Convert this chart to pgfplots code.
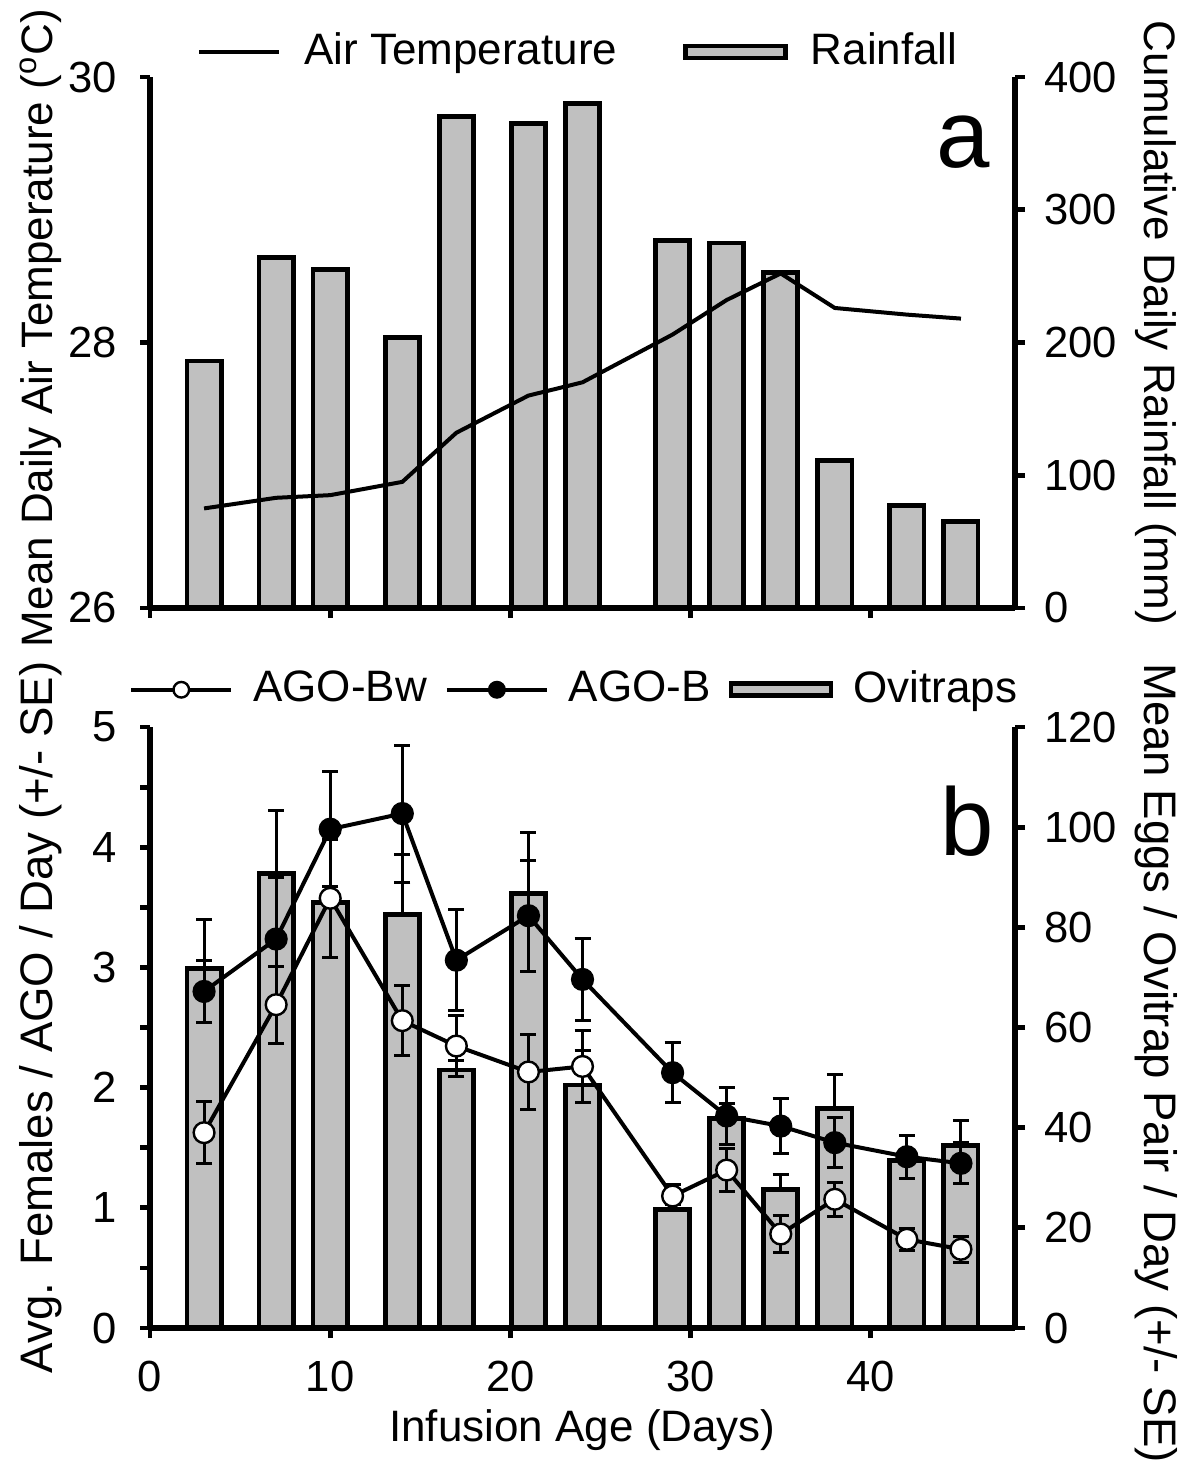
\documentclass[border=0pt]{standalone}
\usepackage{fontspec}
\setmainfont{Liberation Sans}
\usepackage{pgfplots}
\pgfplotsset{compat=1.18}
\definecolor{barfill}{RGB}{192,192,192}
\pgfplotsset{
  common/.style={
    width=216.25pt, scale only axis,
    xmin=0, xmax=48,
    enlargelimits=false,
    axis line style={line width=1.4pt,-},
    tick style={line width=1.2pt, black},
    major tick length=2.5pt, minor tick length=2.5pt,
    tick align=outside,
    /pgf/number format/assume math mode=true,
    tick label style={font=\fontsize{10.9pt}{13pt}\selectfont},
    xticklabel style={yshift=-2pt},
    clip=false,
  },
  leftax/.style={yticklabel style={xshift=-2pt}},
  rightax/.style={yticklabel style={xshift=1pt}},
  errs/.style={/pgfplots/error bars/y explicit,
    /pgfplots/error bars/y dir=#1,
    /pgfplots/error bars/error bar style={line width=0.75pt, black},
    /pgfplots/error bars/error mark options={rotate=90, mark size=2pt, line width=0.75pt, black}},
  linelegend/.style={legend image code/.code={\draw[mark repeat=2,mark phase=2,##1, every mark/.append style={scale=0.75}] plot coordinates {(0pt,0pt) (#1/2,0pt) (#1,0pt)};}},
  barlegend/.style={legend image code/.code={\draw[fill=barfill, draw=black, line width=1.2pt] (0pt,-1.5pt) rectangle (25pt,1.5pt);}},
}
\pgfplotstableread{
x rain temp
3 186 26.75
7 264 26.83
10 255 26.85
14 204 26.95
17 370 27.32
21 365 27.60
24 380 27.70
29 277 28.06
32 275 28.32
35 253 28.52
38 111 28.26
42 77 28.21
45 65 28.18
}\toptable
\pgfplotstableread{
x bw bwe b be ov ove
3 1.625 0.26 2.80 0.26 71.7 9.8
7 2.69 0.32 3.236 0.51 90.8 12.5
10 3.575 0.49 4.15 0.48 85.0 2
14 2.557 0.29 4.28 0.57 82.5 12
17 2.346 0.25 3.06 0.42 51.5 2
21 2.13 0.31 3.43 0.46 86.7 12.2
24 2.176 0.30 2.90 0.34 48.5 7
29 1.098 0.10 2.124 0.25 23.7 1
32 1.314 0.18 1.764 0.24 41.9 3
35 0.782 0.15 1.68 0.23 27.7 2.9
38 1.071 0.14 1.542 0.21 43.9 6.65
42 0.738 0.09 1.425 0.18 33.5 2
45 0.655 0.11 1.37 0.17 36.5 5
}\bottable
\begin{document}
\fontsize{11pt}{13pt}\selectfont
\begin{tikzpicture}
\path[use as bounding box] (-37.5pt,-36.75pt) rectangle (262.5pt,332pt);
% ---------- top panel: rainfall bars (right axis)
\begin{axis}[common, rightax, height=132.75pt, at={(0pt,180pt)},
  axis x line=none, axis y line*=right,
  ymin=0, ymax=400, ytick={0,100,...,400},
  ylabel={Cumulative Daily Rainfall (mm)},
  ylabel style={rotate=180, at={(axis description cs:1.163,0.537)}, anchor=center, font=\fontsize{11pt}{13pt}\selectfont}]
\addplot[ybar, bar width=1.9, bar shift=0pt, fill=barfill, draw=black, line width=1.2pt] table[x=x, y=rain] {\toptable};
\end{axis}
% ---------- top panel: temperature (left axis)
\begin{axis}[common, leftax, height=132.75pt, at={(0pt,180pt)},
  axis x line*=bottom, axis y line*=left,
  ymin=26, ymax=30, ytick={26,28,30},
  xtick={0,10,...,40}, xticklabels={},
  ylabel={Mean Daily Air Temperature (\textsuperscript{o}C)},
  ylabel style={at={(axis description cs:-0.126,0.527)}, anchor=center, font=\fontsize{11pt}{13pt}\selectfont},
  legend style={at={(0.4988,1.047)}, anchor=center, draw=none, fill=none,
    legend columns=-1,
    /tikz/every odd column/.append style={column sep=3.7pt},
    /tikz/every even column/.append style={column sep=14.5pt}}]
\addplot[black, line width=1pt, no markers, linelegend=20pt] table[x=x, y=temp] {\toptable};
\addlegendentry{Air Temperature}
\addlegendimage{barlegend}
\addlegendentry{Rainfall}
\node[font=\fontsize{24pt}{28pt}\selectfont, anchor=base] at (rel axis cs:0.94,0.829) {a};
\end{axis}
% ---------- bottom panel: ovitrap bars (right axis)
\begin{axis}[common, rightax, height=150.25pt, at={(0pt,0pt)},
  axis x line=none, axis y line*=right,
  ymin=0, ymax=120, ytick={0,20,...,120},
  ylabel={Mean Eggs / Ovitrap Pair / Day (+/- SE)},
  ylabel style={rotate=180, at={(axis description cs:1.163,0.441)}, anchor=center, font=\fontsize{11.4pt}{13pt}\selectfont}]
\addplot[ybar, bar width=1.9, bar shift=0pt, fill=barfill, draw=black, line width=1.2pt,
  errs=plus] table[x=x, y=ov, y error=ove] {\bottable};
\end{axis}
% ---------- bottom panel: AGO lines (left axis)
\begin{axis}[common, leftax, height=150.25pt, at={(0pt,0pt)},
  axis x line*=bottom, axis y line*=left,
  ymin=0, ymax=5, ytick={0,...,5}, minor ytick={0.5,1.5,...,4.5},
  xtick={0,10,...,40},
  xlabel={Infusion Age (Days)},
  xlabel style={at={(axis description cs:0.5,-0.17)}, anchor=center, font=\fontsize{11pt}{13pt}\selectfont},
  ylabel={Avg. Females / AGO / Day (+/- SE)},
  ylabel style={at={(axis description cs:-0.126,0.517)}, anchor=center, font=\fontsize{11.4pt}{13pt}\selectfont},
  legend style={at={(0.494,1.062)}, anchor=center, draw=none, fill=none,
    legend columns=-1,
    /tikz/every odd column/.append style={column sep=3pt},
    /tikz/every even column/.append style={column sep=2.5pt}}]
\addplot[black, line width=1pt, mark=*, mark size=2.6pt, mark options={fill=white, line width=0.6pt, solid},
  linelegend=25pt, errs=both] table[x=x, y=bw, y error=bwe] {\bottable};
\addlegendentry{AGO-Bw}
\addplot[black, line width=1pt, mark=*, mark size=2.6pt, mark options={fill=black, line width=0.6pt, solid},
  linelegend=25pt, errs=both] table[x=x, y=b, y error=be] {\bottable};
\addlegendentry{AGO-B}
\addlegendimage{barlegend}
\addlegendentry{Ovitraps}
\node[font=\fontsize{24pt}{28pt}\selectfont, anchor=base] at (rel axis cs:0.945,0.787) {b};
\end{axis}
\end{tikzpicture}
\end{document}
